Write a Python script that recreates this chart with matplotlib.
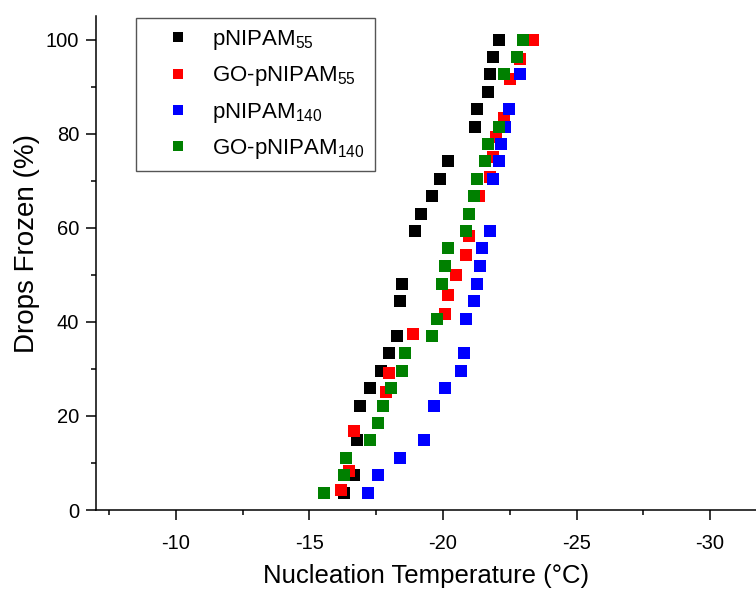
import matplotlib
matplotlib.use("Agg")
import matplotlib.pyplot as plt
from matplotlib.ticker import MultipleLocator

plt.rcParams['font.family'] = ['Liberation Sans', 'DejaVu Sans']
plt.rcParams['mathtext.default'] = 'regular'
plt.rcParams['axes.unicode_minus'] = False

# pNIPAM55 (black)
t_p55 = [-22.09, -21.87, -21.78, -21.69, -21.29, -21.19, -20.19, -19.88, -19.58, -19.19, -18.97,
         -18.48, -18.38, -18.28, -17.98, -17.68, -17.28, -16.88, -16.78, -16.68, -16.28]
f_p55 = [100, 96.3, 92.6, 88.9, 85.2, 81.5, 74.1, 70.4, 66.7, 63.0, 59.3,
         48.1, 44.4, 37.0, 33.3, 29.6, 25.9, 22.2, 14.8, 7.4, 3.7]

# GO-pNIPAM55 (red)
t_gp55 = [-23.37, -22.90, -22.50, -22.29, -22.00, -21.87, -21.78, -21.35, -20.97, -20.88,
          -20.48, -20.18, -20.08, -18.88, -17.97, -17.87, -16.68, -16.48, -16.18]
f_gp55 = [100, 95.8, 91.7, 83.3, 79.2, 75.0, 70.8, 66.7, 58.3, 54.2,
          50.0, 45.8, 41.7, 37.5, 29.2, 25.0, 16.7, 8.3, 4.2]

# pNIPAM140 (blue)
t_p140 = [-22.90, -22.47, -22.31, -22.19, -22.09, -21.87, -21.76, -21.48, -21.38, -21.27,
          -21.18, -20.88, -20.78, -20.68, -20.08, -19.68, -19.28, -18.38, -17.57, -17.18]
f_p140 = [92.6, 85.2, 81.5, 77.8, 74.1, 70.4, 59.3, 55.6, 51.9, 48.1,
          44.4, 40.7, 33.3, 29.6, 25.9, 22.2, 14.8, 11.1, 7.4, 3.7]

# GO-pNIPAM140 (green)
t_gp140 = [-22.98, -22.79, -22.29, -22.09, -21.69, -21.59, -21.29, -21.18, -20.97, -20.88,
           -20.18, -20.08, -19.98, -19.78, -19.58, -18.58, -18.48, -18.07, -17.77, -17.57,
           -17.28, -16.38, -16.28, -15.56]
f_gp140 = [100, 96.3, 92.6, 81.5, 77.8, 74.1, 70.4, 66.7, 63.0, 59.3,
           55.6, 51.9, 48.1, 40.7, 37.0, 33.3, 29.6, 25.9, 22.2, 18.5,
           14.8, 11.1, 7.4, 3.7]

fig = plt.figure(figsize=(7.56, 5.92), dpi=100)
ax = fig.add_axes([0.1266, 0.1385, 0.8734, 0.8345])

ms = 8
ax.plot(t_p55, f_p55, 's', color='black', ms=ms, mew=0, label=r'pNIPAM$_{55}$')
ax.plot(t_gp55, f_gp55, 's', color='#ff0000', ms=ms, mew=0, label=r'GO-pNIPAM$_{55}$')
ax.plot(t_p140, f_p140, 's', color='#0000ff', ms=ms, mew=0, label=r'pNIPAM$_{140}$')
ax.plot(t_gp140, f_gp140, 's', color='#008000', ms=ms, mew=0, label=r'GO-pNIPAM$_{140}$')

ax.set_xlim(-7, -31.72)
ax.set_ylim(0, 105)
ax.xaxis.set_major_locator(MultipleLocator(5))
ax.xaxis.set_minor_locator(MultipleLocator(2.5))
ax.yaxis.set_major_locator(MultipleLocator(20))
ax.yaxis.set_minor_locator(MultipleLocator(10))

for s in ['top', 'right']:
    ax.spines[s].set_visible(False)
for s in ['left', 'bottom']:
    ax.spines[s].set_linewidth(1.1)

ax.tick_params(which='major', direction='out', length=7, width=1.1, labelsize=14.5, pad=5)
ax.tick_params(which='minor', direction='out', length=3.6, width=1.1)
ax.tick_params(axis='x', which='major', pad=10)

ax.set_xlabel('Nucleation Temperature (°C)', fontsize=18.5, labelpad=8)
ax.set_ylabel('Drops Frozen (%)', fontsize=20)
ax.yaxis.set_label_coords(-0.085, 0.54)

leg = ax.legend(loc='upper left', bbox_to_anchor=(0.057, 1.0), fontsize=16,
                frameon=True, fancybox=False, edgecolor='#555555', framealpha=1,
                handlelength=2.9, handletextpad=0.1, borderpad=0.45,
                labelspacing=0.55, markerscale=0.9, borderaxespad=0.1)
leg.get_frame().set_linewidth(1.0)

fig.savefig('out.png', dpi=100)
